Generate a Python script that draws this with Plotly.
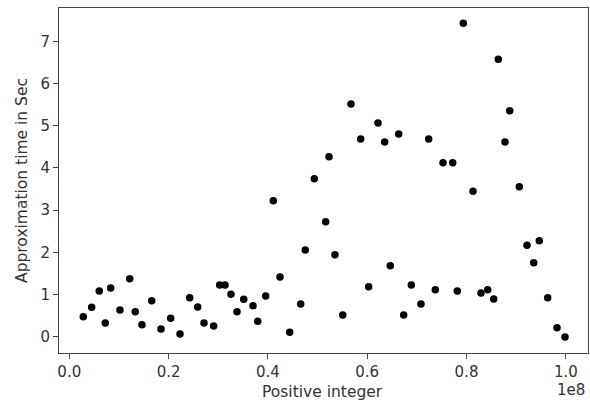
import plotly.graph_objects as go

# Timing measurements: integer tested vs. time taken (seconds)
integers = [
    0.0282e8, 0.0451e8, 0.0604e8, 0.0725e8, 0.0834e8, 0.1021e8, 0.1217e8, 0.1329e8,
    0.1464e8, 0.1660e8, 0.1847e8, 0.2042e8, 0.2230e8, 0.2425e8, 0.2586e8, 0.2713e8,
    0.2908e8, 0.3029e8, 0.3136e8, 0.3257e8, 0.3378e8, 0.3513e8, 0.3700e8, 0.3795e8,
    0.3956e8, 0.4109e8, 0.4244e8, 0.4439e8, 0.4661e8, 0.4753e8, 0.4935e8, 0.5164e8,
    0.5231e8, 0.5351e8, 0.5507e8, 0.5674e8, 0.5869e8, 0.6030e8, 0.6217e8, 0.6352e8,
    0.6465e8, 0.6634e8, 0.6735e8, 0.6888e8, 0.7084e8, 0.7239e8, 0.7372e8, 0.7527e8,
    0.7722e8, 0.7815e8, 0.7936e8, 0.8131e8, 0.8292e8, 0.8427e8, 0.8548e8, 0.8640e8,
    0.8775e8, 0.8870e8, 0.9063e8, 0.9219e8, 0.9353e8, 0.9466e8, 0.9635e8, 0.9823e8,
    0.9984e8,
]
seconds = [
    0.474, 0.697, 1.083, 0.325, 1.154, 0.633, 1.374, 0.592,
    0.284, 0.853, 0.182, 0.436, 0.064, 0.924, 0.704, 0.325,
    0.254, 1.225, 1.225, 1.005, 0.592, 0.886, 0.735, 0.365,
    0.964, 3.223, 1.415, 0.104, 0.775, 2.055, 3.744, 2.725,
    4.265, 1.943, 0.514, 5.514, 4.685, 1.185, 5.064, 4.614,
    1.682, 4.803, 0.514, 1.225, 0.775, 4.685, 1.114, 4.123,
    4.123, 1.083, 7.427, 3.445, 1.036, 1.114, 0.893, 6.573,
    4.614, 5.355, 3.555, 2.166, 1.754, 2.275, 0.924, 0.213,
    -0.007,
]

x_tick_vals = [0, 0.2e8, 0.4e8, 0.6e8, 0.8e8, 1.0e8]
x_tick_text = ["0.0", "0.2", "0.4", "0.6", "0.8", "1.0"]
y_tick_vals = [0, 1, 2, 3, 4, 5, 6, 7]
y_tick_text = ["0", "1", "2", "3", "4", "5", "6", "7"]

FONT = "DejaVu Sans"
TEXT = "#333333"
FRAME = "#444444"

fig = go.Figure(
    go.Scatter(
        x=integers,
        y=seconds,
        mode="markers",
        marker=dict(color="black", size=7.5, line=dict(width=0)),
    )
)

axis_common = dict(
    showgrid=False,
    zeroline=False,
    showline=True,
    mirror=True,
    linecolor=FRAME,
    linewidth=1,
    ticks="outside",
    ticklen=5,
    tickwidth=1,
    tickcolor=FRAME,
    tickfont=dict(family=FONT, size=15, color=TEXT),
)

fig.update_xaxes(
    range=[-0.0207e8, 1.0447e8],
    tickmode="array",
    tickvals=x_tick_vals,
    ticktext=x_tick_text,
    **axis_common,
)
fig.update_yaxes(
    range=[-0.386, 7.789],
    tickmode="array",
    tickvals=y_tick_vals,
    ticktext=y_tick_text,
    **axis_common,
)

fig.update_layout(
    width=590,
    height=406,
    margin=dict(l=59, r=2, t=8, b=53),
    paper_bgcolor="white",
    plot_bgcolor="white",
    showlegend=False,
    annotations=[
        dict(
            text="Positive integer", xref="paper", yref="paper",
            x=0.499, y=-0.113, xanchor="center", yanchor="middle",
            showarrow=False, font=dict(family=FONT, size=15.5, color=TEXT),
        ),
        dict(
            text="Approximation time in Sec", xref="paper", yref="paper",
            x=-0.071, y=0.5, xanchor="center", yanchor="middle", textangle=-90,
            showarrow=False, font=dict(family=FONT, size=15.5, color=TEXT),
        ),
        dict(
            text="1e8", xref="paper", yref="paper",
            x=0.998, y=-0.107, xanchor="right", yanchor="middle",
            showarrow=False, font=dict(family=FONT, size=15, color=TEXT),
        ),
    ],
)

fig.write_html("out.html")
